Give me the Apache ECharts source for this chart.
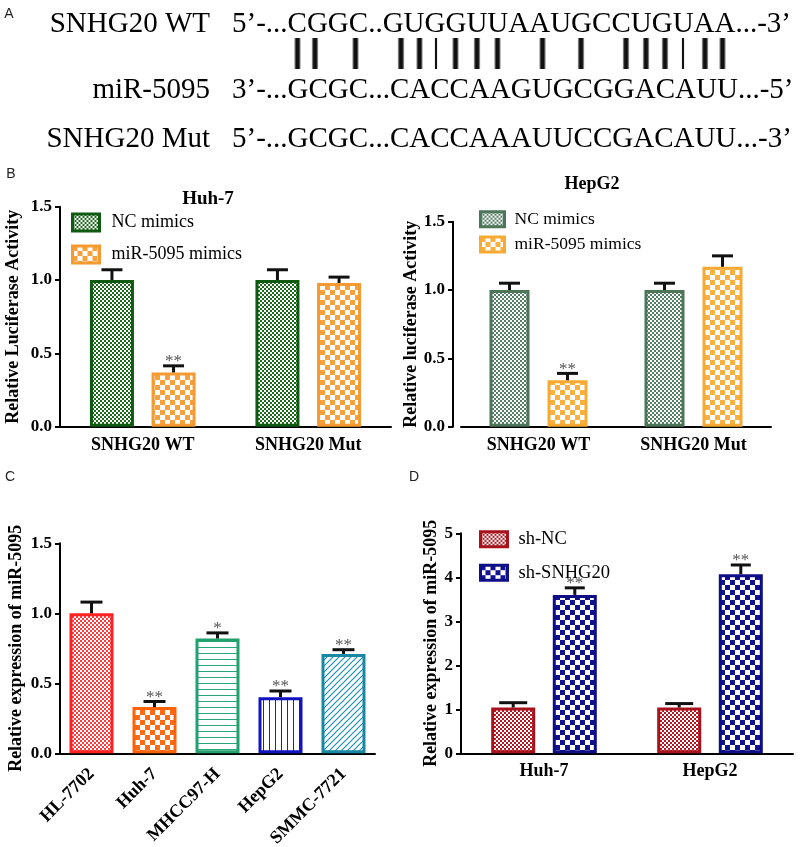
<!DOCTYPE html>
<html><head><meta charset="utf-8">
<script src="https://cdn.jsdelivr.net/npm/echarts@6/dist/echarts.min.js"></script>
<style>html,body{margin:0;padding:0;background:#fff}#c{width:800px;height:847px}</style>
</head><body><div id="c"></div>
<script>
// ================= DATA =================
const seqNames = ['SNHG20 WT', 'miR-5095', 'SNHG20 Mut'];
const seqTexts = ['5’-...CGGC..GUGGUUAAUGCCUGUAA...-3’',
                  '3’-...GCGC...CACCAAGUGCGGACAUU...-5’',
                  '5’-...GCGC...CACCAAAUUCCGACAUU...-3’'];

const lucCategories = ['SNHG20 WT', 'SNHG20 Mut'];
const lucSeriesNames = ['NC mimics', 'miR-5095 mimics'];
const huh7NC = [1.00, 1.00];
const huh7NCsd = [0.07, 0.07];
const huh7Mir = [0.37, 0.98];
const huh7MirSd = [0.045, 0.04];
const huh7MirStars = ['**', ''];
const hepNC = [1.00, 1.00];
const hepNCsd = [0.05, 0.05];
const hepMir = [0.34, 1.17];
const hepMirSd = [0.05, 0.08];
const hepMirStars = ['**', ''];

const cellLines = ['HL-7702', 'Huh-7', 'MHCC97-H', 'HepG2', 'SMMC-7721'];
const cellExpr = [1.00, 0.33, 0.82, 0.40, 0.71];
const cellSd = [0.08, 0.04, 0.04, 0.045, 0.03];
const cellStars = ['', '**', '*', '**', '**'];

const shCategories = ['Huh-7', 'HepG2'];
const shSeriesNames = ['sh-NC', 'sh-SNHG20'];
const shNC = [1.04, 1.04];
const shNCsd = [0.11, 0.09];
const shSNHG = [3.60, 4.07];
const shSNHGsd = [0.16, 0.21];
const shNCStars = ['', ''];
const shSNHGStars = ['**', '**'];

// ================= STYLE HELPERS =================
const SERIF = "'Liberation Serif','Times New Roman',serif";
const SANS = "'Liberation Sans',Arial,sans-serif";

function pattern(kind, color, cell) {
  const c = document.createElement('canvas');
  const ctx = c.getContext('2d');
  if (kind === 'checker') {
    c.width = c.height = cell * 2;
    ctx.fillStyle = '#fff'; ctx.fillRect(0, 0, cell * 2, cell * 2);
    ctx.fillStyle = color;
    ctx.fillRect(0, 0, cell, cell); ctx.fillRect(cell, cell, cell, cell);
  } else if (kind === 'hline') {
    c.width = 4; c.height = cell;
    ctx.fillStyle = '#fff'; ctx.fillRect(0, 0, 4, cell);
    ctx.fillStyle = color; ctx.fillRect(0, cell - 1, 4, 1);
  } else if (kind === 'vline') {
    c.width = cell; c.height = 4;
    ctx.fillStyle = '#fff'; ctx.fillRect(0, 0, cell, 4);
    ctx.fillStyle = color; ctx.fillRect(cell - 1, 0, 1, 4);
  } else if (kind === 'diag') {
    c.width = c.height = cell;
    ctx.fillStyle = '#fff'; ctx.fillRect(0, 0, cell, cell);
    ctx.strokeStyle = color; ctx.lineWidth = 1.2;
    ctx.beginPath();
    ctx.moveTo(-1, cell + 1); ctx.lineTo(cell + 1, -1);
    ctx.moveTo(-1, 1); ctx.lineTo(1, -1);
    ctx.moveTo(cell - 1, cell + 1); ctx.lineTo(cell + 1, cell - 1);
    ctx.stroke();
  }
  return { image: c, repeat: 'repeat' };
}

const styleHuhNC = { color: pattern('checker', '#1d6a1d', 2), borderColor: '#0e5a10', borderWidth: 3 };
const styleHuhMir = { color: pattern('checker', '#f7a13c', 5), borderColor: '#f59a30', borderWidth: 3 };
const styleHepNC = { color: pattern('checker', '#557f63', 2), borderColor: '#4c7559', borderWidth: 3 };
const styleHepMir = { color: pattern('checker', '#f8b13e', 5), borderColor: '#f6aa34', borderWidth: 3 };
const cellStyles = [
  { color: pattern('checker', '#ff3b3b', 2), borderColor: '#ff2222', borderWidth: 3 },
  { color: pattern('checker', '#ff6a12', 5), borderColor: '#ff630a', borderWidth: 3 },
  { color: pattern('hline', '#2aa67a', 6), borderColor: '#22a070', borderWidth: 3 },
  { color: pattern('vline', '#1c1cd0', 6), borderColor: '#1212c0', borderWidth: 3 },
  { color: pattern('diag', '#2090b0', 6), borderColor: '#1a88a2', borderWidth: 3 }
];
const styleShNC = { color: pattern('checker', '#b41822', 2), borderColor: '#a8121c', borderWidth: 3 };
const styleShSN = { color: pattern('checker', '#12128e', 5), borderColor: '#0e0e86', borderWidth: 3 };

function xAxisCfg(idx, cats, extra) {
  return Object.assign({
    type: 'category', gridIndex: idx, data: cats,
    axisLine: { lineStyle: { color: '#000', width: 2 } },
    axisTick: { alignWithLabel: true, length: 6, lineStyle: { color: '#000', width: 2 } },
    axisLabel: { fontFamily: SERIF, fontWeight: 'bold', fontSize: 18, color: '#000', margin: 10, interval: 0 }
  }, extra || {});
}
function yAxisCfg(idx, max, interval, name, gap, decimals, extra) {
  return Object.assign({
    type: 'value', gridIndex: idx, min: 0, max: max, interval: interval,
    splitLine: { show: false },
    axisLine: { show: true, lineStyle: { color: '#000', width: 2 } },
    axisTick: { show: true, length: 5, lineStyle: { color: '#000', width: 2 } },
    axisLabel: { fontFamily: SERIF, fontWeight: 'bold', fontSize: 17, color: '#000', margin: 8,
                 formatter: v => v.toFixed(decimals) },
    name: name, nameLocation: 'middle', nameGap: gap,
    nameTextStyle: { fontFamily: SERIF, fontWeight: 'bold', fontSize: 18, color: '#000' }
  }, extra || {});
}

function errSeries(idx, means, sds, stars, offset, capW) {
  return {
    type: 'custom', xAxisIndex: idx, yAxisIndex: idx, z: 5, silent: true,
    data: means.map((m, i) => [i, m, m + sds[i]]),
    encode: { x: 0, y: [1, 2] },
    renderItem: function (params, api) {
      const i = api.value(0);
      const p0 = api.coord([i, api.value(1)]);
      const p1 = api.coord([i, api.value(2)]);
      const x = p0[0] + offset;
      const st = { stroke: '#111', lineWidth: 3 };
      const children = [
        { type: 'line', shape: { x1: x, y1: p0[1], x2: x, y2: p1[1] }, style: st },
        { type: 'line', shape: { x1: x - capW / 2, y1: p1[1], x2: x + capW / 2, y2: p1[1] }, style: st }
      ];
      const s = stars[params.dataIndex];
      if (s) children.push({ type: 'text', x: x, y: p1[1] - 4,
        style: { text: s, align: 'center', verticalAlign: 'middle', font: '17px ' + SERIF, fill: '#555' } });
      return { type: 'group', children: children };
    }
  };
}

const legendName = n => n.split('#')[0];

// ================= PANEL A graphics =================
const rowY = [24, 90, 139];
const graphics = [];
seqNames.forEach((n, i) => {
  graphics.push({ type: 'text', x: 210, y: rowY[i],
    style: { text: n, align: 'right', verticalAlign: 'middle', font: '29px ' + SERIF, fill: '#000' } });
  graphics.push({ type: 'text', x: 232, y: rowY[i],
    style: { text: seqTexts[i], align: 'left', verticalAlign: 'middle', font: '29px ' + SERIF, fill: '#000' } });
});
const pairMarkX = [297.5, 315, 355.5, 401, 419.5, 436, 455.5, 477, 497.5, 542.5, 581, 626, 646, 665, 683, 705, 722.5];
const thinMarks = [5, 14];
pairMarkX.forEach((cx, i) => {
  const w = thinMarks.includes(i) ? 2.5 : 6.5;
  graphics.push({ type: 'rect', shape: { x: cx - w / 2, y: 38, width: w, height: 31 },
    style: { fill: { type: 'linear', x: 0, y: 0, x2: 1, y2: 0, colorStops: [
      { offset: 0, color: 'rgba(0,0,0,0.25)' }, { offset: 0.3, color: '#111' },
      { offset: 0.7, color: '#111' }, { offset: 1, color: 'rgba(0,0,0,0.25)' }] } } });
});
// panel letters
[['A', 9, 14], ['B', 11, 174], ['C', 10, 477], ['D', 414, 477]].forEach(l => {
  graphics.push({ type: 'text', x: l[1], y: l[2],
    style: { text: l[0], align: 'center', verticalAlign: 'middle', font: '14px ' + SANS, fill: '#222' } });
});
// panel titles
graphics.push({ type: 'text', x: 208, y: 199,
  style: { text: 'Huh-7', align: 'center', verticalAlign: 'middle', font: 'bold 19px ' + SERIF, fill: '#000' } });
graphics.push({ type: 'text', x: 592, y: 184,
  style: { text: 'HepG2', align: 'center', verticalAlign: 'middle', font: 'bold 18px ' + SERIF, fill: '#000' } });

// ================= OPTION =================
const legendBase = { orient: 'vertical', icon: 'rect', padding: 0, formatter: legendName, selectedMode: false };
const gridBase = { containLabel: false, outerBoundsMode: 'none' };

const option = {
  animation: false,
  backgroundColor: '#fff',
  grid: [
    Object.assign({ left: 60, top: 206.7, width: 331, height: 220 }, gridBase),
    Object.assign({ left: 461, top: 221.7, width: 310, height: 205 }, gridBase),
    Object.assign({ left: 60, top: 543.3, width: 315, height: 210 }, gridBase),
    Object.assign({ left: 461, top: 533.3, width: 332, height: 220 }, gridBase)
  ],
  xAxis: [
    xAxisCfg(0, lucCategories),
    xAxisCfg(1, lucCategories),
    xAxisCfg(2, cellLines, { axisLabel: { fontFamily: SERIF, fontWeight: 'bold', fontSize: 18, color: '#000', margin: 18, interval: 0, rotate: 45 } }),
    xAxisCfg(3, shCategories, { axisLabel: { fontFamily: SERIF, fontWeight: 'bold', fontSize: 18, color: '#000', margin: 9, interval: 0 } })
  ],
  yAxis: [
    yAxisCfg(0, 1.5, 0.5, 'Relative Luciferase Activity', 38, 1),
    yAxisCfg(1, 1.5, 0.5, 'Relative luciferase Activity', 24, 1, { offset: 8 }),
    yAxisCfg(2, 1.5, 0.5, 'Relative expression of miR-5095', 35, 1),
    yAxisCfg(3, 5, 1, 'Relative expression of miR-5095', 21, 0)
  ],
  legend: [
    Object.assign({}, legendBase, { left: 71, top: 212.5, itemWidth: 27, itemHeight: 17, itemGap: 12,
      textStyle: { fontFamily: SERIF, fontSize: 18, color: '#000', lineHeight: 17, padding: [0, 0, 0, 7] },
      data: [{ name: lucSeriesNames[0] + '#L', itemStyle: styleHuhNC }, { name: lucSeriesNames[1] + '#L', itemStyle: styleHuhMir }] }),
    Object.assign({}, legendBase, { left: 479, top: 210.2, itemWidth: 24, itemHeight: 15, itemGap: 7.3,
      textStyle: { fontFamily: SERIF, fontSize: 17.5, color: '#000', lineHeight: 15, padding: [0, 0, 0, 5] },
      data: [{ name: lucSeriesNames[0] + '#R', itemStyle: styleHepNC }, { name: lucSeriesNames[1] + '#R', itemStyle: styleHepMir }] }),
    Object.assign({}, legendBase, { left: 479, top: 529.8, itemWidth: 27, itemHeight: 15, itemGap: 14.4,
      textStyle: { fontFamily: SERIF, fontSize: 18.5, color: '#000', lineHeight: 15, padding: [0, 0, 0, 6] },
      data: [{ name: shSeriesNames[0] + '#D', itemStyle: styleShNC }, { name: shSeriesNames[1] + '#D', itemStyle: styleShSN }] })
  ],
  graphic: graphics,
  series: [
    { type: 'bar', name: lucSeriesNames[0] + '#L', xAxisIndex: 0, yAxisIndex: 0, data: huh7NC, barWidth: 44, barGap: '40%', itemStyle: styleHuhNC },
    { type: 'bar', name: lucSeriesNames[1] + '#L', xAxisIndex: 0, yAxisIndex: 0, data: huh7Mir, barWidth: 44, barGap: '40%', itemStyle: styleHuhMir },
    errSeries(0, huh7NC, huh7NCsd, ['', ''], -30.8, 21),
    errSeries(0, huh7Mir, huh7MirSd, huh7MirStars, 30.8, 21),

    { type: 'bar', name: lucSeriesNames[0] + '#R', xAxisIndex: 1, yAxisIndex: 1, data: hepNC, barWidth: 40, barGap: '45%', itemStyle: styleHepNC },
    { type: 'bar', name: lucSeriesNames[1] + '#R', xAxisIndex: 1, yAxisIndex: 1, data: hepMir, barWidth: 40, barGap: '45%', itemStyle: styleHepMir },
    errSeries(1, hepNC, hepNCsd, ['', ''], -29, 21),
    errSeries(1, hepMir, hepMirSd, hepMirStars, 29, 21),

    { type: 'bar', name: 'cells', xAxisIndex: 2, yAxisIndex: 2, barWidth: 44,
      data: cellExpr.map((v, i) => ({ value: v, itemStyle: cellStyles[i] })) },
    errSeries(2, cellExpr, cellSd, cellStars, 0, 22),

    { type: 'bar', name: shSeriesNames[0] + '#D', xAxisIndex: 3, yAxisIndex: 3, data: shNC, barWidth: 44, barGap: '40%', itemStyle: styleShNC },
    { type: 'bar', name: shSeriesNames[1] + '#D', xAxisIndex: 3, yAxisIndex: 3, data: shSNHG, barWidth: 44, barGap: '40%', itemStyle: styleShSN },
    errSeries(3, shNC, shNCsd, shNCStars, -30.8, 28),
    errSeries(3, shSNHG, shSNHGsd, shSNHGStars, 30.8, 20)
  ]
};

const chart = echarts.init(document.getElementById('c'), null, { renderer: 'canvas' });
chart.setOption(option);
</script>
</body></html>
